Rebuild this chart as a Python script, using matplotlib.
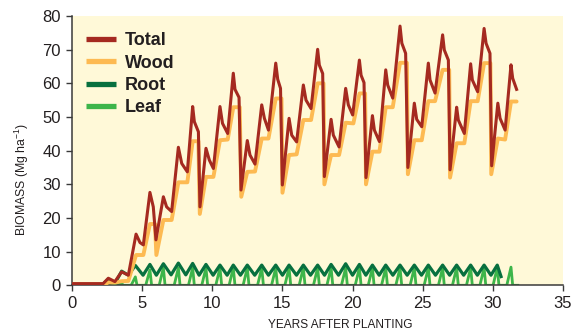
import matplotlib
matplotlib.use("Agg")
import matplotlib.pyplot as plt
from matplotlib import font_manager

# ---------------- data ----------------
t_total = [0, 2.2, 2.57, 3.04, 3.52, 4.0, 4.55, 4.83, 5.07, 5.54, 5.78, 5.97, 6.50, 6.73, 7.09,
           7.57, 7.81, 8.21, 8.59, 8.71, 9.0, 9.11, 9.54, 9.78, 10.07, 10.54, 10.72, 11.09,
           11.49, 11.61, 11.90, 12.04, 12.49, 12.68, 13.04, 13.52, 13.71, 14.0, 14.52, 14.66,
           14.86, 14.99, 15.47, 15.66, 16.01, 16.49, 16.68, 17.04, 17.51, 17.63, 17.87, 17.99,
           18.47, 18.63, 19.04, 19.51, 19.70, 20.01, 20.49, 20.61, 20.82, 20.96, 21.42, 21.56,
           21.92, 22.37, 22.51, 22.87, 23.39, 23.52, 23.79, 23.95, 24.41, 24.58, 24.94, 25.41,
           25.53, 25.89, 26.43, 26.55, 26.84, 26.96, 27.43, 27.55, 27.98, 28.43, 28.55, 28.93,
           29.39, 29.53, 29.81, 29.93, 30.37, 30.53, 30.89, 31.31, 31.43, 31.71]
v_total = [0.5, 0.5, 2.1, 1.1, 4.0, 3.0, 15.2, 12.7, 12.0, 27.6, 23.3, 13.5, 26.3, 23.3, 21.9,
           41.0, 36.2, 33.7, 53.1, 48.6, 45.6, 23.3, 40.7, 37.2, 34.7, 53.1, 48.1, 45.1,
           63.0, 58.2, 55.8, 28.3, 43.0, 38.7, 36.0, 53.6, 49.6, 46.1, 66.0, 61.2,
           58.5, 29.8, 49.6, 44.6, 42.6, 59.5, 55.0, 52.5, 70.1, 65.4, 62.9, 32.3,
           49.3, 44.6, 41.1, 58.5, 53.6, 50.6, 66.9, 62.4, 60.2, 32.0, 50.4, 46.1,
           42.7, 64.0, 59.5, 55.6, 77.0, 71.9, 68.9, 35.0, 54.1, 49.3, 47.1, 66.0,
           61.0, 57.1, 74.4, 69.9, 66.9, 34.3, 52.9, 49.1, 45.1, 65.8, 61.0, 57.5,
           76.3, 71.9, 68.9, 35.5, 54.1, 49.6, 46.1, 65.5, 61.5, 58.2]

t_wood = [0, 2.3, 2.6, 3.05, 3.5, 4.0, 4.55, 5.07, 5.54, 5.9, 6.0, 6.5, 7.09, 7.57, 8.21, 8.59,
          9.0, 9.1, 9.54, 10.07, 10.54, 11.09, 11.49, 11.95, 12.06, 12.49, 13.04, 13.52, 14.0,
          14.52, 14.93, 15.0, 15.47, 16.01, 16.49, 17.04, 17.51, 17.93, 17.99, 18.47, 19.04,
          19.51, 20.06, 20.5, 20.9, 20.96, 21.42, 21.92, 22.37, 22.87, 23.39, 23.88, 23.95,
          24.41, 24.94, 25.41, 25.89, 26.43, 26.9, 26.96, 27.43, 27.98, 28.43, 28.93, 29.39,
          29.84, 29.9, 30.37, 30.89, 31.31, 31.71]
v_wood = [0.3, 0.3, 0.9, 0.8, 1.2, 1.3, 9.0, 9.0, 18.2, 18.2, 9.0, 19.4, 19.4, 30.6, 30.6, 42.8,
          42.8, 21.2, 32.2, 32.2, 43.1, 43.3, 52.9, 52.9, 26.3, 33.7, 33.8, 43.6, 43.6,
          55.5, 55.5, 27.5, 38.7, 38.9, 49.1, 49.1, 60.0, 60.0, 30.0, 38.7, 38.7,
          48.3, 48.1, 57.0, 57.0, 30.0, 39.7, 39.7, 52.9, 52.9, 66.1, 66.1, 33.0,
          43.1, 43.1, 54.7, 54.7, 64.0, 64.0, 32.0, 42.2, 42.2, 54.7, 54.7, 66.0,
          66.0, 33.0, 43.6, 43.3, 54.6, 54.6]

t_root = [0, 2.1, 2.57, 3.04, 3.52, 4.0,
          4.5, 5.05, 5.54, 6.0, 6.5, 7.05, 7.57, 8.1, 8.59, 9.05, 9.54, 10.05, 10.54, 11.05,
          11.49, 12.0, 12.49, 13.02, 13.52, 14.0, 14.52, 15.0, 15.47, 16.0, 16.49, 17.0,
          17.51, 18.0, 18.47, 19.0, 19.51, 20.0, 20.49, 20.95, 21.42, 21.9, 22.37, 22.88,
          23.39, 23.9, 24.41, 24.92, 25.41, 25.92, 26.43, 26.93, 27.43, 27.93, 28.43, 28.91,
          29.39, 29.88, 30.33, 30.6]
v_root = [0.0, 0.0, 1.8, 0.5, 4.2, 3.0,
          5.9, 3.0, 6.2, 3.0, 6.4, 3.1, 6.6, 3.1, 6.5, 3.0, 6.2, 3.0, 6.0, 3.0,
          6.0, 3.0, 6.0, 3.0, 6.0, 3.0, 6.0, 3.0, 6.0, 3.0, 6.0, 3.0,
          6.0, 3.0, 6.2, 3.0, 6.4, 3.0, 6.2, 3.0, 6.0, 3.0, 6.0, 3.0,
          6.0, 3.0, 6.0, 3.0, 6.0, 3.0, 6.0, 3.0, 6.0, 3.0, 6.0, 3.0,
          6.0, 3.0, 6.0, 2.6]

t_leaf_peak = [3.52, 4.5, 5.54, 6.5, 7.57, 8.59, 9.54, 10.54, 11.49, 12.49, 13.52, 14.52,
               15.47, 16.49, 17.51, 18.47, 19.51, 20.49, 21.42, 22.37, 23.39, 24.41, 25.41,
               26.43, 27.43, 28.43, 29.39, 30.33, 31.31]
v_leaf_peak = [0.6, 2.5, 4.6, 5.2, 5.2, 5.2, 5.2, 5.2, 5.2, 5.2, 5.2, 5.2,
               5.2, 5.2, 5.2, 5.2, 5.2, 5.2, 5.2, 5.2, 5.2, 5.2, 5.2,
               5.2, 5.2, 5.2, 5.2, 5.3, 5.4]
leaf_rise = 0.3    # years from leaf-out to peak (read)
leaf_fall = 0.12   # years from peak to leaf drop (read)
leaf_end = 31.8

t_leaf = [0.0]
v_leaf = [0.0]
for tp, vp in zip(t_leaf_peak, v_leaf_peak):
    t_leaf += [tp - leaf_rise, tp, tp + leaf_fall]
    v_leaf += [0.0, vp, 0.0]
t_leaf.append(leaf_end)
v_leaf.append(0.0)

labels = ["Total", "Wood", "Root", "Leaf"]
colors = {"Total": "#A52A20", "Wood": "#FDBA52", "Root": "#08703F", "Leaf": "#3DB54A"}

x_ticks = [0, 5, 10, 15, 20, 25, 30, 35]
y_ticks = [0, 10, 20, 30, 40, 50, 60, 70, 80]

# ---------------- figure ----------------
avail = {f.name for f in font_manager.fontManager.ttflist}
base = "Liberation Sans Narrow" if "Liberation Sans Narrow" in avail else "Liberation Sans"
plt.rcParams["font.family"] = [base, "DejaVu Sans"]
plt.rcParams["mathtext.fontset"] = "custom"
plt.rcParams["mathtext.rm"] = base

W, H = 585, 332
fig = plt.figure(figsize=(W / 100, H / 100), dpi=100)
fig.patch.set_facecolor("white")
ax = fig.add_axes([72.3 / W, 1 - 285.3 / H, (562.7 - 72.3) / W, (285.3 - 16) / H])
ax.set_facecolor("#FFF9D8")

h_leaf, = ax.plot(t_leaf, v_leaf, color=colors["Leaf"], lw=2.0, zorder=2)
h_root, = ax.plot(t_root, v_root, color=colors["Root"], lw=2.3, zorder=3)
h_wood, = ax.plot(t_wood, v_wood, color=colors["Wood"], lw=2.8, zorder=4,
                  solid_joinstyle="round", solid_capstyle="round")
h_total, = ax.plot(t_total, v_total, color=colors["Total"], lw=2.2, zorder=5,
                   solid_joinstyle="round")

ax.set_xlim(0, 35)
ax.set_ylim(0, 80)
ax.set_xticks(x_ticks)
ax.set_yticks(y_ticks)
for s in ["top", "right"]:
    ax.spines[s].set_visible(False)
for s in ["left", "bottom"]:
    ax.spines[s].set_color("#3a3a3a")
    ax.spines[s].set_linewidth(1.1)
ax.tick_params(axis="both", direction="out", length=4.3, width=1.0, color="#3a3a3a",
               labelsize=12, labelcolor="#231f20")
ax.tick_params(axis="y", pad=4.0)
ax.tick_params(axis="x", pad=3.5)

leg = ax.legend([h_total, h_wood, h_root, h_leaf], labels, loc="upper left",
                bbox_to_anchor=(0.028, 0.94), frameon=False, borderpad=0,
                borderaxespad=0, handlelength=1.65, handletextpad=0.5,
                labelspacing=0.3, prop={"weight": "bold", "size": 13})
for ln in leg.get_lines():
    ln.set_linewidth(3.8)
    ln.set_solid_capstyle("butt")
for tx in leg.get_texts():
    tx.set_color("#231f20")

fig.text(340 / W, 1 - 325.5 / H, "YEARS AFTER PLANTING", ha="center", va="center",
         fontsize=8.6, color="#231f20")
fig.text(22 / W, 1 - 180 / H, r"BIOMASS (Mg ha$^{\mathregular{-1}}$)", ha="center",
         va="center", rotation=90, fontsize=8.8, color="#231f20")

fig.savefig("out.png", dpi=100)
